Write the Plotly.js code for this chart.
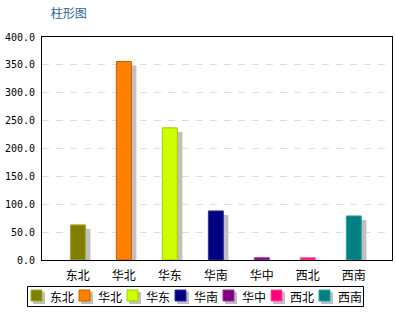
<!DOCTYPE html>
<html>
<head>
<meta charset="utf-8">
<script src="https://cdn.plot.ly/plotly-3.0.1.min.js"></script>
<style>html,body{margin:0;padding:0;background:#fff;}#chart{width:396px;height:312px;}</style>
</head>
<body>
<div id="chart"></div>
<script>
var categories = ["东北", "华北", "华东", "华南", "华中", "西北", "西南"];
var values = [63, 356, 237, 88, 4, 4, 79];
var yTicks = [0, 50, 100, 150, 200, 250, 300, 350, 400];
var titleText = "柱形图";

var colors = ["#808000", "#FF8000", "#CCFF00", "#000080", "#800080", "#FF0080", "#008080"];
var lineColors = ["#a8a830", "#c86000", "#a0cc00", "#3030a0", "#a030a0", "#ff50a0", "#30a0a0"];

var cjk = "'Noto Sans CJK SC', 'DejaVu Sans', sans-serif";
var W = 396, H = 312;
var L = 42, R = 392, T = 37, B = 260;
var barW = 0.326;

// shadow trace (drawn first)
var shadow = {
  type: "bar", x: categories, y: values, base: -7.2,
  width: barW, offset: -barW / 2 + 0.11,
  marker: {color: "#c0c0c0", line: {width: 0}},
  hoverinfo: "skip", showlegend: false
};
var bars = {
  type: "bar", x: categories, y: values,
  width: barW, offset: -barW / 2,
  marker: {color: colors, line: {color: lineColors, width: 1}},
  showlegend: false
};

// custom compact legend
function px(x) { return (x - L) / (R - L); }
function py(y) { return (B - y) / (B - T); }
var shapes = [], annotations = [];
shapes.push({type: "rect", xref: "paper", yref: "paper",
  x0: px(27.5), x1: px(363.5), y0: py(306.5), y1: py(286.5),
  line: {color: "#000", width: 1}, fillcolor: "#fff"});
for (var i = 0; i < categories.length; i++) {
  var mx = 31 + i * 48;
  var my = 290;
  shapes.push({type: "rect", xref: "paper", yref: "paper",
    x0: px(mx + 2), x1: px(mx + 14), y0: py(my + 2), y1: py(my + 14),
    line: {width: 0}, fillcolor: "#c0c0c0"});
  shapes.push({type: "rect", xref: "paper", yref: "paper",
    x0: px(mx), x1: px(mx + 11), y0: py(my), y1: py(my + 11),
    line: {width: 1, color: lineColors[i]}, fillcolor: colors[i]});
  annotations.push({xref: "paper", yref: "paper", x: px(mx + 16.5), y: py(my + 6),
    xanchor: "left", yanchor: "middle", showarrow: false, text: categories[i],
    font: {family: cjk, size: 12, color: "#000"}});
}

var layout = {
  width: W, height: H,
  margin: {l: L, r: W - R, t: T, b: H - B, pad: 0},
  paper_bgcolor: "#fff", plot_bgcolor: "#fff",
  barmode: "overlay",
  title: {text: titleText, x: 10 / W, xanchor: "left", xref: "paper", y: 1 - 14 / H, yanchor: "middle",
          font: {family: cjk, size: 12, color: "#2a6496"}},
  xaxis: {type: "category", range: [-0.78, 6.83], showgrid: false, zeroline: false,
          showline: true, mirror: true, linecolor: "#000", linewidth: 1,
          ticks: "outside", ticklen: 5, tickcolor: "rgba(0,0,0,0)",
          tickfont: {family: cjk, size: 12, color: "#000"}, fixedrange: true},
  yaxis: {range: [0, 400], tickvals: yTicks, tickformat: ".1f",
          showgrid: true, gridcolor: "#ecd6d6", griddash: "7px,7px", gridwidth: 1,
          zeroline: false, showline: true, mirror: true, linecolor: "#000", linewidth: 1,
          ticks: "outside", ticklen: 4, tickcolor: "rgba(0,0,0,0)",
          tickfont: {family: "'DejaVu Sans Mono', monospace", size: 10, color: "#000"}, fixedrange: true},
  shapes: shapes,
  annotations: annotations,
  showlegend: false
};

Plotly.newPlot("chart", [shadow, bars], layout, {staticPlot: true, displayModeBar: false});
</script>
</body>
</html>
